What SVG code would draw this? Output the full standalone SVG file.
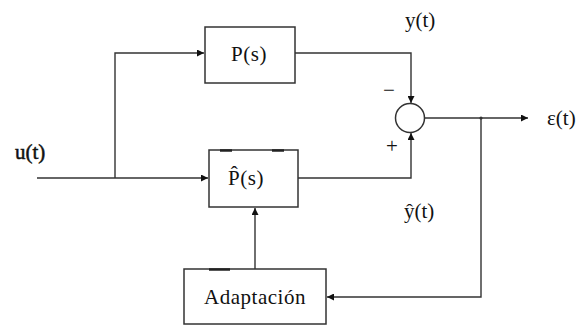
<svg xmlns="http://www.w3.org/2000/svg" width="578" height="326" viewBox="0 0 578 326">
  <style>
    .box { fill: #fff; stroke: #333; stroke-width: 1.5; }
    .wire { fill: none; stroke: #333; stroke-width: 1.4; }
    .lbl { font-family: "Liberation Serif", "Times New Roman", serif; font-size: 21px; fill: #111; }
    .mark { stroke: #222; stroke-width: 2.5; }
  </style>
  <defs>
    <marker id="arrow" viewBox="0 0 10 10" refX="10" refY="5" markerWidth="8" markerHeight="7" markerUnits="userSpaceOnUse" orient="auto">
      <path d="M0,0 L10,5 L0,10 z" fill="#111"/>
    </marker>
  </defs>
  <rect width="578" height="326" fill="#fff"/>

  <g id="connectors">
    <!-- input line with branch up to P(s) -->
    <path class="wire" d="M37,178 H208" marker-end="url(#arrow)"/>
    <path class="wire" d="M115,178 V53 H204" marker-end="url(#arrow)"/>
    <!-- plant output to summing junction (minus input) -->
    <path class="wire" d="M295,53 H411 V103" marker-end="url(#arrow)"/>
    <!-- model output to summing junction (plus input) -->
    <path class="wire" d="M298,178 H411 V133" marker-end="url(#arrow)"/>
    <!-- error output -->
    <path class="wire" d="M425,118 H528" stroke="#555" marker-end="url(#arrow)"/>
    <circle cx="481" cy="118" r="1.6" fill="#333"/>
    <!-- error fed back to adaptation block -->
    <path class="wire" d="M481,118 V297 H327" stroke="#444" marker-end="url(#arrow)"/>
    <!-- adaptation updates the model -->
    <path class="wire" d="M255,269 V208" marker-end="url(#arrow)"/>
  </g>

  <g id="plant">
    <rect class="box" x="205" y="27" width="90" height="56"/>
    <text class="lbl" x="249" y="61" text-anchor="middle" font-size="22" letter-spacing="0.5">P(s)</text>
  </g>

  <g id="model">
    <rect class="box" x="209" y="150" width="89" height="57"/>
    <line class="mark" x1="220" y1="150.5" x2="232" y2="150.5"/>
    <line class="mark" x1="272" y1="150.5" x2="284" y2="150.5"/>
    <text class="lbl" x="246" y="185" text-anchor="middle" font-size="22" letter-spacing="0.5">P̂(s)</text>
  </g>

  <g id="sum">
    <circle cx="410" cy="118" r="14.5" fill="#fff" stroke="#333" stroke-width="1.5"/>
    <text class="lbl" x="389" y="97" text-anchor="middle" font-size="18">−</text>
    <text class="lbl" x="392" y="153" text-anchor="middle" font-size="14">+</text>
  </g>

  <g id="adaptation">
    <rect class="box" x="184" y="269" width="142" height="55"/>
    <line class="mark" x1="209" y1="269.5" x2="230" y2="269.5"/>
    <text class="lbl" x="255" y="304" text-anchor="middle" font-size="22" letter-spacing="0.5">Adaptación</text>
  </g>

  <g id="labels">
    <text class="lbl" x="15" y="159" stroke="#111" stroke-width="0.5">u(t)</text>
    <text class="lbl" x="405" y="27">y(t)</text>
    <text class="lbl" x="404" y="218">ŷ(t)</text>
    <text class="lbl" x="547" y="125">ε(t)</text>
  </g>
</svg>
